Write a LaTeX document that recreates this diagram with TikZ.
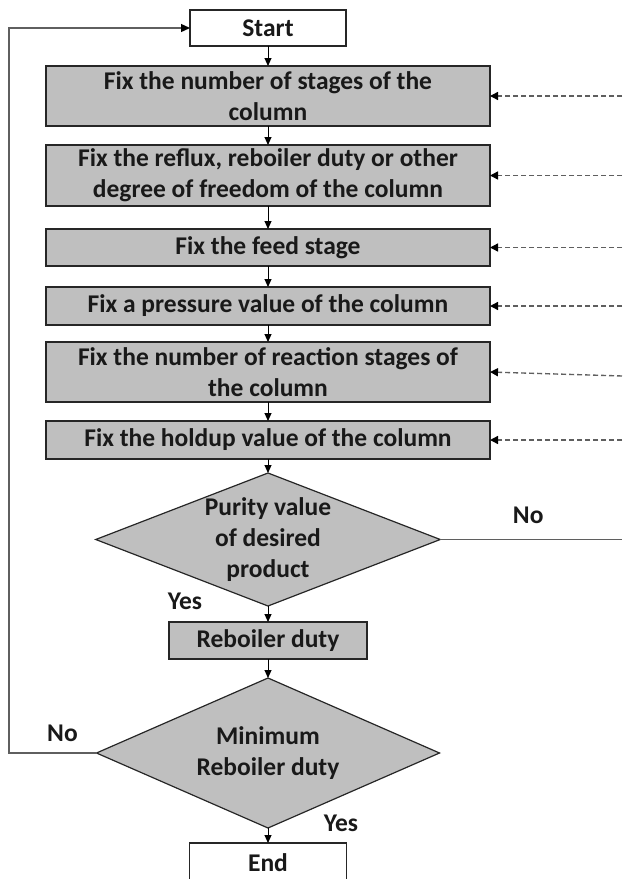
\documentclass[tikz,border=0pt]{standalone}
\usepackage{fontspec}
\setmainfont{Carlito}
\usetikzlibrary{positioning, shapes.geometric, arrows.meta, calc}

\definecolor{boxgray}{RGB}{191,191,191}
\definecolor{linegray}{RGB}{95,95,95}
\definecolor{txtblack}{RGB}{25,25,25}

\begin{document}
\begin{tikzpicture}[x=1pt, y=1pt,
    font=\fontsize{25.5}{31}\selectfont\bfseries, text=txtblack,
    every node/.style={outer sep=0pt},
    stage/.style={rectangle, draw=black!85, line width=1.4pt, fill=boxgray,
      minimum width=444pt, align=center, inner ysep=1pt},
    term/.style={rectangle, draw=black!85, line width=1.4pt, fill=white,
      minimum width=156pt, minimum height=36pt, inner ysep=1pt},
    test/.style={diamond, aspect=2.6, draw=black!85, line width=1.2pt,
      fill=boxgray, align=center, inner sep=0pt, minimum width=343pt},
    flow/.style={-{Triangle[width=7pt,length=8pt]}, line width=1pt},
    feed/.style={-{Triangle[width=8pt,length=8pt,black]}, draw=linegray,
      dash pattern=on 5pt off 3pt, line width=1.4pt},
    back/.style={-{Triangle[width=8pt,length=9pt,black]}, draw=linegray,
      line width=1.3pt}]

  \useasboundingbox (0,0) rectangle (622,-879);

  \node[term] (start) at (268,-28) {Start};
  \node[stage, minimum height=60pt, below=20pt of start] (fix1)
    {Fix the number of stages of the\\column};
  \node[stage, minimum height=61pt, below=19pt of fix1] (fix2)
    {Fix the reflux, reboiler duty or other\\degree of freedom of the column};
  \node[stage, minimum height=37pt, below=23pt of fix2] (fix3) {Fix the feed stage};
  \node[stage, minimum height=38pt, below=21pt of fix3] (fix4)
    {Fix a pressure value of the column};
  \node[stage, minimum height=60pt, below=17pt of fix4] (fix5)
    {Fix the number of reaction stages of\\the column};
  \node[stage, minimum height=38pt, below=19pt of fix5] (fix6)
    {Fix the holdup value of the column};
  \node[test, minimum height=133pt, below=14pt of fix6] (purity)
    {Purity value\\of desired\\product};
  \node[stage, minimum width=198pt, minimum height=37pt, below=16pt of purity] (duty)
    {Reboiler duty};
  \node[test, minimum height=150pt, below=19pt of duty] (mindty)
    {Minimum\\Reboiler duty};
  \node[term, minimum width=157pt, minimum height=40pt, below=15pt of mindty] (end) {End};

  % edges of the page
  \coordinate (rim) at (622,0);
  \coordinate (loop) at (9,0);

  \foreach \a/\b in {start/fix1, fix1/fix2, fix2/fix3, fix3/fix4, fix4/fix5,
      fix5/fix6, fix6/purity, purity/duty, duty/mindty, mindty/end}
    \draw[flow] (\a) -- (\b);

  \foreach \n in {fix1, fix2, fix3, fix4, fix6}
    \draw[feed] (\n.east -| rim) -- (\n.east);
  \draw[feed] ($(fix5.east -| rim)+(0,-4)$) -- (fix5.east);

  \draw[draw=linegray, line width=1.3pt] (purity.east) -- (purity.east -| rim);
  \draw[back] (mindty.west) -- (mindty.west -| loop) |- (start.west);

  \node (no1) at ([xshift=88pt, yshift=24pt]purity.east) {No};
  \node (yes1) at ([xshift=-83pt, yshift=5pt]purity.south) {Yes};
  \node (no2) at ([xshift=-34pt, yshift=20pt]mindty.west) {No};
  \node (yes2) at ([xshift=73pt, yshift=5pt]mindty.south) {Yes};
\end{tikzpicture}
\end{document}
